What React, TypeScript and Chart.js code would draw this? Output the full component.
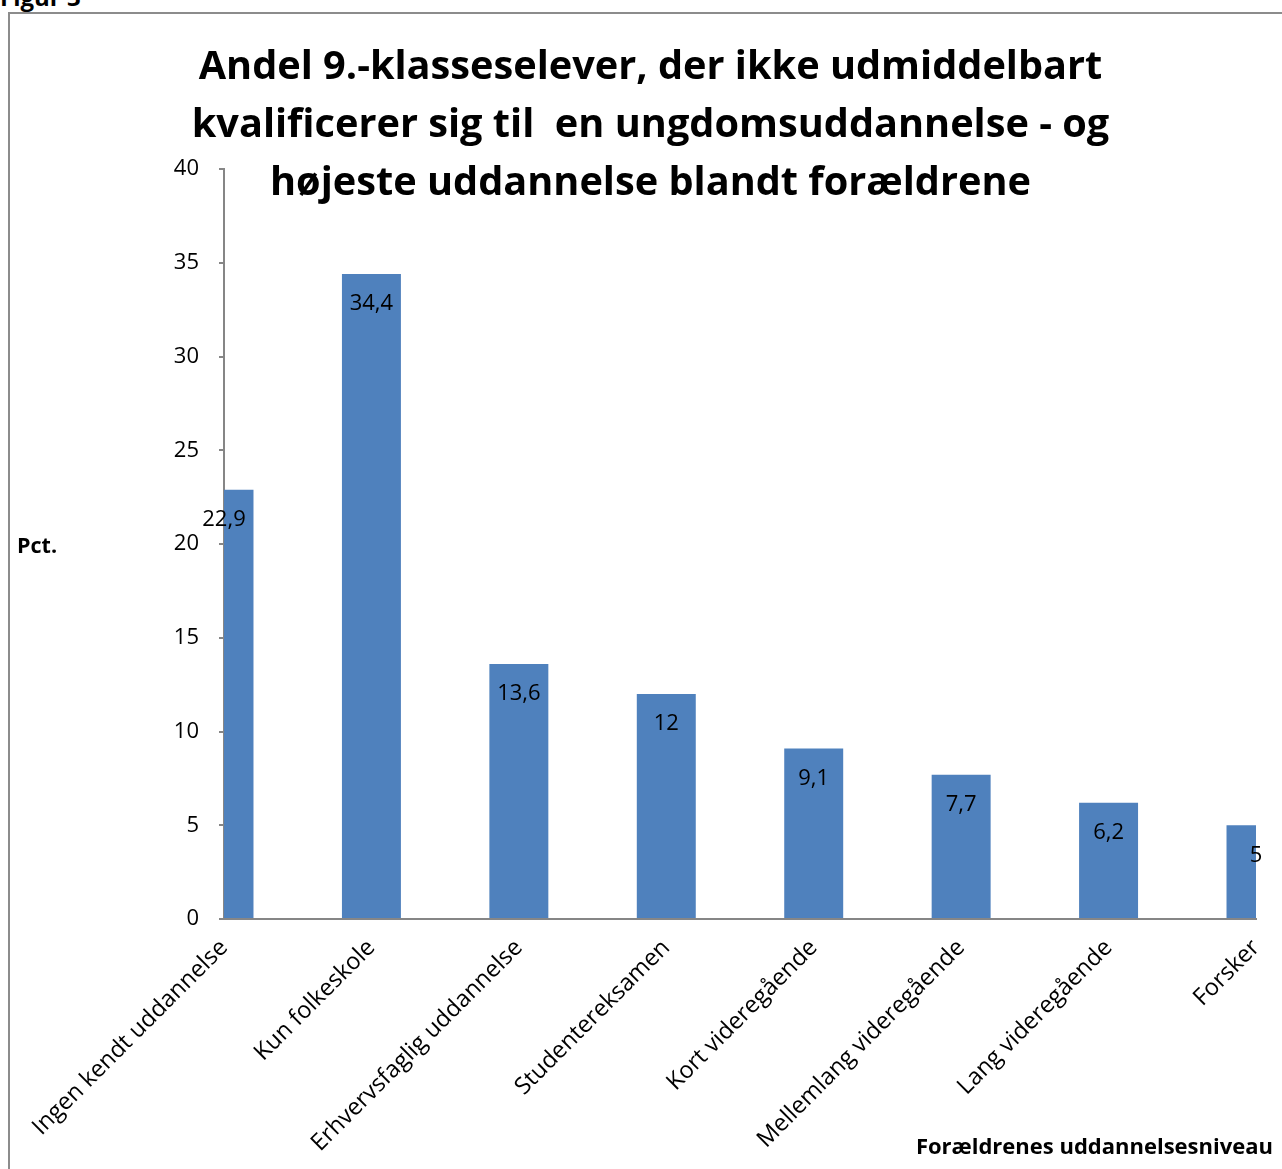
import React, { useEffect, useRef } from "react";
import { Chart, registerables } from "chart.js";

Chart.register(...registerables);

const categories = [
  "Ingen kendt uddannelse",
  "Kun folkeskole",
  "Erhvervsfaglig uddannelse",
  "Studentereksamen",
  "Kort videregående",
  "Mellemlang videregående",
  "Lang videregående",
  "Forsker",
];
const values = [22.9, 34.4, 13.6, 12, 9.1, 7.7, 6.2, 5];
const titleLines = [
  "Andel 9.-klasseselever, der ikke udmiddelbart",
  "kvalificerer sig til  en ungdomsuddannelse - og",
  "højeste uddannelse blandt forældrene",
];
const yAxisTitle = "Pct.";
const xAxisTitle = "Forældrenes uddannelsesniveau";
const figureLabel = "Figur 3";

const FONT = "'Open Sans', sans-serif";
const W = 1282;
const H = 1169;

const dataLabelPlugin = {
  id: "dataLabels",
  afterDatasetsDraw(chart: any) {
    const ctx = chart.ctx;
    const meta = chart.getDatasetMeta(0);
    ctx.save();
    ctx.font = `22px ${FONT}`;
    ctx.fillStyle = "#000";
    ctx.textAlign = "center";
    ctx.textBaseline = "middle";
    meta.data.forEach((bar: any, i: number) => {
      const v = values[i];
      const txt = String(v).replace(".", ",");
      ctx.fillText(txt, bar.x, bar.y + 30);
    });
    ctx.restore();
  },
};

export default function App() {
  const ref = useRef<HTMLCanvasElement | null>(null);
  useEffect(() => {
    if (!ref.current) return;
    const chart = new Chart(ref.current, {
      type: "bar",
      data: {
        labels: categories,
        datasets: [
          {
            data: values,
            backgroundColor: "#4f81bd",
            borderWidth: 0,
            categoryPercentage: 1,
            barPercentage: 0.4,
            clip: 0 as any,
          },
        ],
      },
      options: {
        animation: false,
        responsive: false,
        devicePixelRatio: 1,
        layout: { padding: { top: 169, right: 26, left: 0, bottom: 0 } },
        plugins: {
          legend: { display: false },
          tooltip: { enabled: false },
          title: { display: false },
        },
        scales: {
          x: {
            offset: false,
            grid: { display: false, drawTicks: false },
            border: { color: "#868686", width: 2 },
            ticks: {
              color: "#000",
              font: { family: FONT, size: 23.5 },
              minRotation: 45,
              maxRotation: 45,
              autoSkip: false,
              padding: 15,
            },
            afterFit(scale: any) {
              scale.height = H - 919;
              scale.paddingLeft = 0;
              scale.paddingRight = 0;
            },
          },
          y: {
            min: 0,
            max: 40,
            grid: {
              drawOnChartArea: false,
              drawTicks: true,
              tickLength: 5,
              color: "#868686",
              lineWidth: 2,
            },
            border: { color: "#868686", width: 2 },
            ticks: {
              stepSize: 5,
              color: "#000",
              font: { family: FONT, size: 22 },
              padding: 20,
            },
            afterFit(scale: any) {
              scale.width = 224;
              scale.paddingTop = 0;
              scale.paddingBottom = 0;
            },
          },
        },
      },
      plugins: [dataLabelPlugin],
    });
    return () => chart.destroy();
  }, []);

  return (
    <div
      style={{
        position: "absolute",
        left: 0,
        top: 0,
        width: W,
        height: H,
        overflow: "hidden",
        background: "#fff",
        fontFamily: FONT,
      }}
    >
      <div
        style={{
          position: "absolute",
          left: 0,
          top: -20,
          fontWeight: 700,
          fontSize: 24,
          color: "#000",
        }}
      >
        {figureLabel}
      </div>
      <div
        style={{
          position: "absolute",
          left: 8,
          top: 12,
          width: 1400,
          height: 1300,
          border: "2px solid #8c8c8c",
          boxSizing: "border-box",
        }}
      />
      <canvas
        ref={ref}
        width={W}
        height={H}
        style={{ position: "absolute", left: 0, top: 0, width: W, height: H }}
      />
      <div
        style={{
          position: "absolute",
          left: 0,
          top: 35,
          width: 1301,
          textAlign: "center",
          fontWeight: 700,
          fontSize: 39.7,
          lineHeight: "58px",
          color: "#000",
          whiteSpace: "pre",
        }}
      >
        {titleLines.map((l, i) => (
          <div key={i}>{l}</div>
        ))}
      </div>
      <div
        style={{
          position: "absolute",
          left: 17,
          top: 530,
          fontWeight: 700,
          fontSize: 21.5,
          color: "#000",
        }}
      >
        {yAxisTitle}
      </div>
      <div
        style={{
          position: "absolute",
          right: W - 1273,
          top: 1130,
          fontWeight: 700,
          fontSize: 22,
          color: "#000",
          whiteSpace: "nowrap",
        }}
      >
        {xAxisTitle}
      </div>
    </div>
  );
}
